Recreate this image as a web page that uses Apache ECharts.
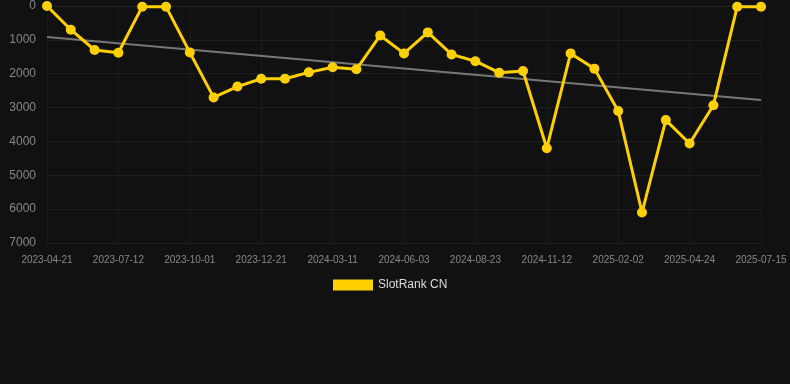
<!DOCTYPE html>
<html>
<head>
<meta charset="utf-8">
<script src="https://cdn.jsdelivr.net/npm/echarts@6/dist/echarts.min.js"></script>
<style>html,body{margin:0;padding:0;background:#111111;}#c{width:790px;height:384px;}</style>
</head>
<body>
<div id="c"></div>
<script>
const dates = ['2023-04-21','2023-05-18','2023-06-14','2023-07-12','2023-08-08','2023-09-04','2023-10-01','2023-10-28','2023-11-24','2023-12-21','2024-01-17','2024-02-13','2024-03-11','2024-04-08','2024-05-06','2024-06-03','2024-06-30','2024-07-27','2024-08-23','2024-09-19','2024-10-16','2024-11-12','2024-12-10','2025-01-06','2025-02-02','2025-03-01','2025-03-28','2025-04-24','2025-05-21','2025-06-17','2025-07-15'];
const ranks = [0,700,1300,1380,20,20,1370,2700,2380,2150,2150,1960,1810,1870,870,1400,780,1430,1630,1970,1920,4200,1400,1850,3100,6100,3370,4060,2930,20,20];
const trendStart = 915;
const trendEnd = 2776;
const seriesName = 'SlotRank CN';

const trend = dates.map((d,i)=> i===0 ? trendStart : (i===dates.length-1 ? trendEnd : null));

const chart = echarts.init(document.getElementById('c'));
chart.setOption({
  backgroundColor:'#111111',
  animation:false,
  grid:{left:47,right:29,top:6,bottom:141},
  legend:{
    data:[{name:seriesName, icon:'rect'}],
    top:274, left:328, itemWidth:40, itemHeight:11, itemGap:10,
    textStyle:{color:'#dddddd', fontSize:12, fontFamily:'Liberation Sans, Arial, sans-serif'}
  },
  xAxis:{
    type:'category', data:dates, boundaryGap:false,
    axisLine:{show:true, lineStyle:{color:'#262626'}},
    axisTick:{show:false},
    axisLabel:{interval:2, color:'#888888', fontSize:10, margin:12, fontFamily:'Liberation Sans, Arial, sans-serif'},
    splitLine:{show:true, interval:2, lineStyle:{color:'#1b1b1b'}}
  },
  yAxis:{
    type:'value', inverse:true, min:0, max:7000, interval:1000,
    axisLine:{show:false}, axisTick:{show:false},
    axisLabel:{color:'#888888', fontSize:12, margin:11, fontFamily:'Liberation Sans, Arial, sans-serif',
      formatter:function(v){return String(v);}},
    splitLine:{show:true, lineStyle:{color:'#1e1e1e'}}
  },
  series:[
    {name:seriesName, type:'line', data:ranks, symbol:'circle', symbolSize:10,
     lineStyle:{color:'#FFD000', width:3}, itemStyle:{color:'#FFD000'}, z:3},
    {name:'trend', type:'line', data:trend, connectNulls:true, symbol:'none',
     lineStyle:{color:'#777777', width:2}, itemStyle:{color:'#777777'}, z:2, silent:true}
  ]
});
</script>
</body>
</html>
